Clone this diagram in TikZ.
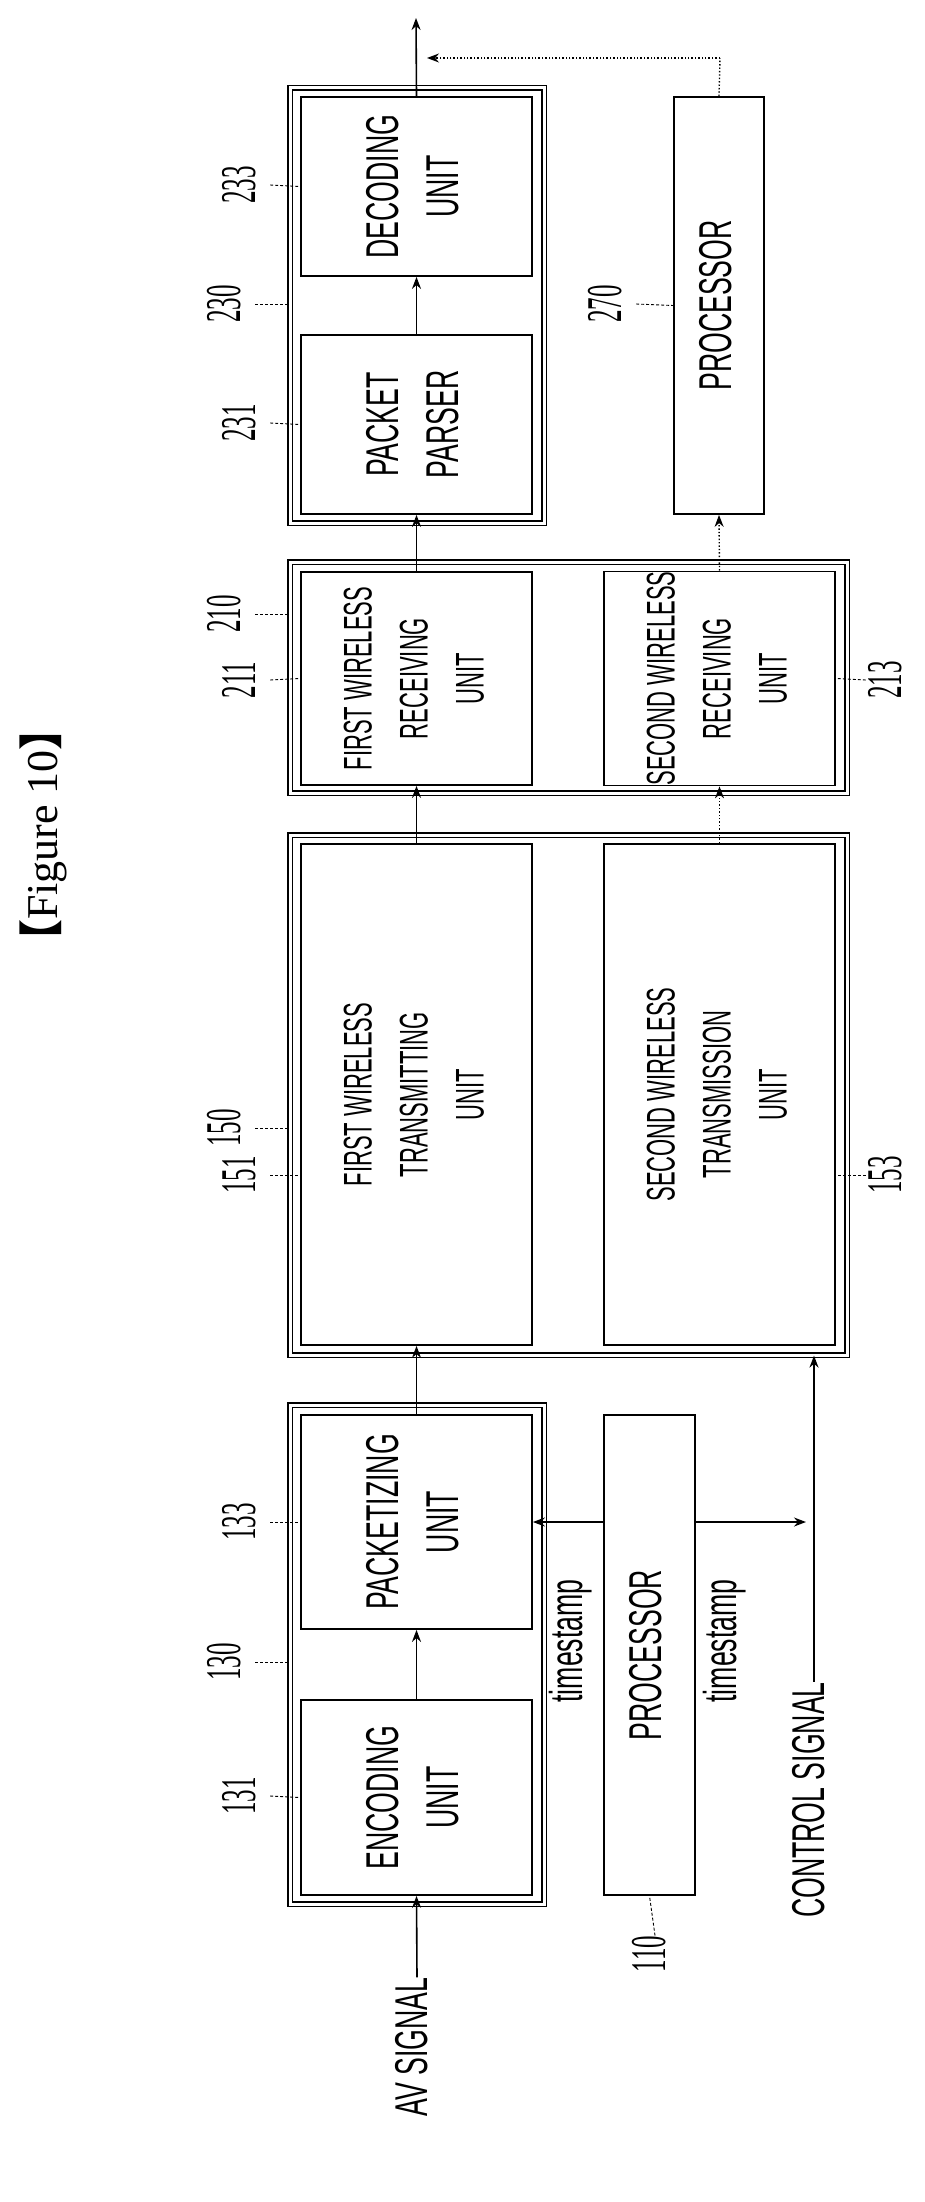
\documentclass[tikz,border=0pt]{standalone}
\usepackage{fontspec}
\usepackage{graphicx}
\setmainfont{Liberation Sans}
\newfontfamily\serifnum{Liberation Serif}
\newfontfamily\cjk{Noto Sans CJK SC}
\usetikzlibrary{arrows.meta}
\newcommand{\cnd}[2][0.58]{\scalebox{#1}[1]{\begin{tabular}{@{}c@{}}#2\end{tabular}}}
\begin{document}
\begin{tikzpicture}[x=1pt,y=-1pt,
  outer/.style={draw,line width=1.2pt,double,double distance=3pt,inner sep=0pt},
  inner/.style={draw,line width=1.8pt,inner sep=0pt,rotate=90,align=center,
     font=\fontsize{46}{60}\selectfont},
  num/.style={font=\serifnum\fontsize{50}{50}\selectfont,rotate=90,inner sep=0pt},
  lbl/.style={font=\fontsize{46}{50}\selectfont,rotate=90,inner sep=0pt},
  arr/.style={line width=1.6pt,-{Stealth[length=12pt,width=9pt]}},
  dar/.style={line width=1.4pt,dotted,-{Stealth[length=12pt,width=9pt]}},
  lead/.style={line width=0.9pt,densely dashed}]
\useasboundingbox (0,0) rectangle (924,2202);
% figure title
\node[rotate=90,font=\serifnum\fontsize{44}{44}\selectfont] (fig) at (43,835) {{\cjk\bfseries 【}Figure 10{\cjk\bfseries 】}};
% receiver side
\node[outer,minimum width=254,minimum height=435] (o230) at (417,305.5) {};
\node[inner,minimum width=179,minimum height=231] (dec) at (416.5,186.5) {\cnd{DECODING\\UNIT}};
\node[inner,minimum width=179,minimum height=231] (pp) at (416.5,424.5) {\cnd{PACKET\\PARSER}};
\node[inner,minimum width=417,minimum height=90] (p270) at (719,305.5) {\cnd{PROCESSOR}};
\node[outer,minimum width=557,minimum height=231] (o210) at (568.5,677.5) {};
\node[inner,minimum width=213,minimum height=231,font=\fontsize{40}{56}\selectfont] (r1) at (416.5,678.5) {\cnd[0.55]{FIRST WIRELESS\\RECEIVING\\UNIT}};
\node[inner,minimum width=213,minimum height=231,font=\fontsize{40}{56}\selectfont] (r2) at (719.5,678.5) {\cnd[0.55]{SECOND WIRELESS\\RECEIVING\\UNIT}};
% transmitter side
\node[outer,minimum width=557,minimum height=520] (o150) at (568.5,1095) {};
\node[inner,minimum width=501,minimum height=231,font=\fontsize{40}{56}\selectfont] (t1) at (416.5,1094.5) {\cnd[0.55]{FIRST WIRELESS\\TRANSMITTING\\UNIT}};
\node[inner,minimum width=501,minimum height=231,font=\fontsize{40}{56}\selectfont] (t2) at (719.5,1094.5) {\cnd[0.55]{SECOND WIRELESS\\TRANSMISSION\\UNIT}};
\node[outer,minimum width=254,minimum height=499] (o130) at (417,1654.5) {};
\node[inner,minimum width=214,minimum height=231] (pk) at (416.5,1522) {\cnd{PACKETIZING\\UNIT}};
\node[inner,minimum width=195,minimum height=231] (enc) at (416.5,1797.5) {\cnd{ENCODING\\UNIT}};
\node[inner,minimum width=480,minimum height=91] (p110) at (649.5,1655) {\cnd{PROCESSOR}};
% signal labels
\node[lbl] (av) at (417,2047) {\cnd{AV SIGNAL}};
\node[lbl] (cs) at (814,1800) {\cnd{CONTROL SIGNAL}};
\node[lbl] (ts1) at (572,1641) {\cnd{timestamp}};
\node[lbl] (ts2) at (726,1641) {\cnd{timestamp}};
% coordinates
\coordinate (out) at (416,18);
\coordinate (dj) at (427,58);
\coordinate (dk) at (720,58);
\coordinate (tsE) at (806,1522);
% connectors
\draw[arr] (av.east) -- (enc.west);
\draw[arr] (enc.east) -- (pk.west);
\draw[arr] (pk.east) -- (t1.west);
\draw[arr] (t1.east) -- (r1.west);
\draw[arr] (r1.east) -- (pp.west);
\draw[arr] (pp.east) -- (dec.west);
\draw[arr] (dec.east) -- (out);
\draw[arr] (p110.north |- pk.south) -- (pk.south);
\draw[arr] (p110.south |- tsE) -- (tsE);
\draw[arr] (cs.east) -- (cs.east |- o150.south);
\draw[dar] (t2.east) -- (r2.west);
\draw[dar] (r2.east) -- (p270.west);
\draw[line width=1.4pt,dotted] (p270.east) -- (dk);
\draw[dar] (dk) -- (dj);
% reference numerals
\node[num] (n233) at (245,185) {\cnd[0.5]{233}};
\node[num] (n230) at (230,304) {\cnd[0.5]{230}};
\node[num] (n231) at (245,423) {\cnd[0.5]{231}};
\node[num] (n270) at (611,304) {\cnd[0.5]{270}};
\node[num] (n210) at (230,614) {\cnd[0.5]{210}};
\node[num] (n211) at (245,680) {\cnd[0.5]{211}};
\node[num] (n213) at (891,680) {\cnd[0.5]{213}};
\node[num] (n150) at (230,1128) {\cnd[0.5]{150}};
\node[num] (n151) at (245,1175) {\cnd[0.5]{151}};
\node[num] (n153) at (891,1175) {\cnd[0.5]{153}};
\node[num] (n133) at (245,1522) {\cnd[0.5]{133}};
\node[num] (n130) at (230,1662) {\cnd[0.5]{130}};
\node[num] (n131) at (245,1796) {\cnd[0.5]{131}};
\node[num] (n110) at (655,1954) {\cnd[0.5]{110}};
% leaders
\draw[lead] (n233.south) -- (dec.north);
\draw[lead] (n230.south) -- (n230.south -| o230.west);
\draw[lead] (n231.south) -- (pp.north);
\draw[lead] (n270.south) -- (p270.north);
\draw[lead] (n210.south) -- (n210.south -| o210.west);
\draw[lead] (n211.south) -- (r1.north);
\draw[lead] (n213.north) -- (r2.south);
\draw[lead] (n150.south) -- (n150.south -| o150.west);
\draw[lead] (n151.south) -- (n151.south -| t1.north);
\draw[lead] (n153.north) -- (n153.north -| t2.south);
\draw[lead] (n133.south) -- (pk.north);
\draw[lead] (n130.south) -- (n130.south -| o130.west);
\draw[lead] (n131.south) -- (enc.north);
\draw[lead] (n110.east) -- (p110.west);
\end{tikzpicture}
\end{document}
